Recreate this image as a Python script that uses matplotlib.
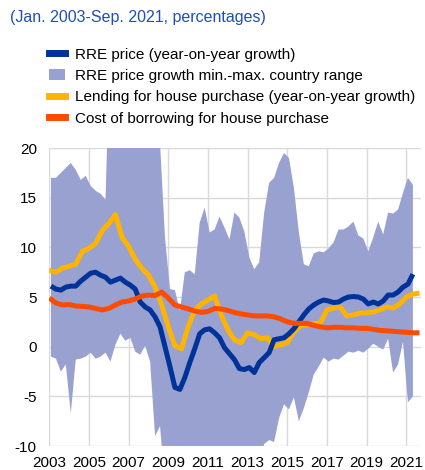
import numpy as np
import pandas as pd
import matplotlib
matplotlib.use("Agg")
import matplotlib.pyplot as plt
from matplotlib.lines import Line2D
from matplotlib.patches import Patch

plt.rcParams['font.family'] = ['Liberation Sans', 'DejaVu Sans']

# quarterly series, 2003Q1 - 2021Q2 (plotted at mid-quarter)
rre_price = [6.1, 5.8, 5.7, 6.0, 6.1, 6.1, 6.6, 7.0, 7.4, 7.5, 7.2, 7.0,
             6.5, 6.7, 6.9, 6.5, 6.2, 5.8, 4.5, 4.0, 3.7, 3.0, 2.0, 0.0,
             -2.0, -4.1, -4.3, -3.1, -1.6, -0.2, 1.3, 1.7, 1.8, 1.4, 0.9, -0.1,
             -0.7, -1.3, -2.2, -2.3, -2.1, -2.6, -1.6, -1.1, -0.6, 0.7, 0.8, 0.9,
             1.3, 1.8, 2.5, 3.2, 3.8, 4.2, 4.5, 4.7, 4.6, 4.45, 4.5, 4.8,
             5.0, 5.05, 5.0, 4.8, 4.3, 4.5, 4.3, 4.6, 5.2, 5.2, 5.5, 6.0,
             6.3, 7.3]
range_max = [17.0, 17.0, 17.5, 18.0, 18.5, 17.8, 16.8, 17.2, 16.2, 15.7, 15.4, 14.8,
             32.0, 34.0, 35.0, 33.0, 32.0, 30.0, 29.0, 27.0, 25.0, 23.0, 20.5, 11.0,
             5.8, 5.7, 3.6, 7.5, 7.7, 7.3, 12.5, 14.0, 11.5, 11.8, 13.1, 12.0,
             10.8, 13.5, 13.0, 11.6, 9.0, 7.8, 8.5, 13.5, 16.5, 17.0, 18.5, 19.5,
             19.0, 16.0, 11.5, 8.3, 8.1, 9.4, 9.6, 9.5, 9.9, 10.5, 11.8, 11.8,
             12.1, 12.6, 11.2, 10.9, 9.6, 11.0, 12.6, 11.3, 13.5, 13.4, 13.8, 15.5,
             17.0, 16.3]
range_min = [-1.0, -1.2, -2.5, -1.8, -6.7, -1.3, -1.2, -1.0, -0.6, -1.2, -1.0, -0.6,
             -1.5, 0.2, 1.3, 0.6, 0.9, -0.5, -0.8, 0.1, -1.5, -9.0, -8.0, -14.0,
             -20.0, -25.0, -28.0, -24.0, -18.0, -15.0, -14.0, -16.0, -18.0, -20.0, -19.0, -17.0,
             -16.0, -15.0, -16.0, -14.0, -13.0, -13.0, -12.0, -9.8, -9.4, -9.6, -7.2, -5.8,
             -6.3, -5.1, -7.5, -6.2, -4.6, -2.8, -2.0, -1.1, -1.5, -1.2, -1.3, -0.9,
             -0.5, -0.6, -0.4, -0.6, -0.2, 0.3, 0.0, -0.3, 0.8, -2.6, -1.8, 0.5,
             -5.6, -5.0]

# four-monthly series, Jan 2003 - Sep 2021
lending = [7.7, 7.5, 7.9, 8.1, 8.3, 9.6, 9.9, 10.4, 11.7, 12.4, 13.3, 11.0,
           10.1, 8.8, 7.9, 7.2, 6.0, 4.2, 2.0, 0.1, -0.2, 2.0, 3.7, 4.3,
           4.7, 5.1, 3.2, 1.7, 0.7, 0.4, 1.4, 1.2, 0.8, 0.9, 0.0, 0.2,
           0.4, 1.5, 2.1, 2.2, 2.3, 2.4, 3.7, 3.9, 4.0, 3.1, 3.2, 3.4,
           3.4, 3.5, 3.7, 4.0, 3.9, 4.3, 5.0, 5.3, 5.4]
cost_borrowing = [4.9, 4.4, 4.2, 4.25, 4.1, 4.05, 4.0, 3.85, 3.7, 3.85, 4.2, 4.5,
                  4.6, 4.8, 5.1, 5.2, 5.15, 5.5, 4.9, 4.2, 4.0, 3.8, 3.6, 3.45,
                  3.55, 3.85, 3.8, 3.65, 3.45, 3.3, 3.2, 3.1, 3.1, 3.1, 3.0, 2.8,
                  2.5, 2.35, 2.35, 2.35, 2.15, 2.0, 1.9, 1.95, 1.95, 1.9, 1.9, 1.85,
                  1.85, 1.75, 1.65, 1.6, 1.55, 1.5, 1.45, 1.4, 1.4]

labels = ["RRE price (year-on-year growth)",
          "RRE price growth min.-max. country range",
          "Lending for house purchase (year-on-year growth)",
          "Cost of borrowing for house purchase"]
title = "(Jan. 2003-Sep. 2021, percentages)"
year_ticks = list(range(2003, 2022, 2))


def frac_year(dates):
    return dates.year + (dates.month - 1) / 12.0


q_dates = pd.date_range("2003-02-01", periods=len(rre_price), freq="3MS")
m_dates = pd.date_range("2003-01-01", periods=len(lending), freq="4MS")
xq = frac_year(q_dates)
xm = frac_year(m_dates)

c_blue = "#003299"
c_band = "#98a1d0"
c_yellow = "#ffb400"
c_red = "#ff4b00"

fig = plt.figure(figsize=(4.25, 4.7), dpi=100)
ax = fig.add_axes([0.116, 0.051, 0.875, 0.634])

ax.fill_between(xq, range_min, range_max, color=c_band, lw=0, zorder=2)
ax.plot(xq, rre_price, color=c_blue, lw=3.6, zorder=4, solid_capstyle="butt")
ax.plot(xm, lending, color=c_yellow, lw=3.6, zorder=3, solid_capstyle="butt")
ax.plot(xm, cost_borrowing, color=c_red, lw=3.6, zorder=5, solid_capstyle="butt")

ax.set_xlim(2003, 2021.75)
ax.set_ylim(-10, 20)
ax.set_xticks(year_ticks)
ax.set_yticks([-10, -5, 0, 5, 10, 15, 20])
ax.set_yticklabels(["-10", "-5", "0", "5", "10", "15", "20"])
ax.grid(True, color="#d9d9d9", lw=1.0)
ax.set_axisbelow(True)
for s in ax.spines.values():
    s.set_visible(False)
ax.tick_params(length=0, labelsize=11, colors="#000000")
ax.tick_params(axis="x", pad=7)
ax.tick_params(axis="y", pad=9)

fig.text(0.024, 0.962, title, color="#1f4fb4", fontsize=11.5, va="center", ha="left")

handles = [Line2D([], [], color=c_blue, lw=5),
           Patch(facecolor=c_band, edgecolor="none"),
           Line2D([], [], color=c_yellow, lw=5),
           Line2D([], [], color=c_red, lw=5)]
fig.legend(handles, labels, loc="upper left", bbox_to_anchor=(0.115, 0.899),
           frameon=False, fontsize=11, handlelength=1.05, handleheight=0.8,
           handletextpad=0.65, labelspacing=0.47, borderpad=0, borderaxespad=0)

fig.savefig("out.png", dpi=100)
